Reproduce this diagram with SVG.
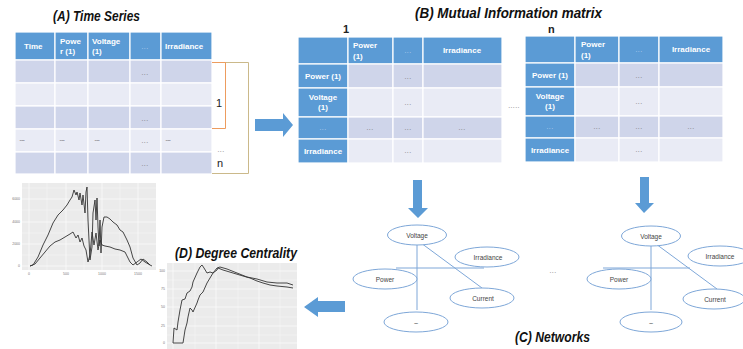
<svg xmlns="http://www.w3.org/2000/svg" width="743" height="349" viewBox="0 0 743 349">
<style>
.hd{fill:#5b9bd5;stroke:#fff;stroke-width:1.2}
.dk{fill:#cfd5ea;stroke:#fff;stroke-width:1.2}
.lt{fill:#e9ebf5;stroke:#fff;stroke-width:1.2}
.ht{font-family:"Liberation Sans",Arial,sans-serif;font-weight:bold;font-size:8px;fill:#fff}
.hf{font-family:"Liberation Sans",Arial,sans-serif;font-size:7px;fill:#b9d1ee;text-anchor:middle;letter-spacing:0.4px}
.dt{font-family:"Liberation Sans",Arial,sans-serif;font-size:7px;fill:#777;text-anchor:middle;letter-spacing:0.4px}
.ds{font-family:"Liberation Sans",Arial,sans-serif;font-size:6px;fill:#444;text-anchor:middle;letter-spacing:-0.3px}
.title{font-family:"Liberation Sans",Arial,sans-serif;font-weight:bold;font-style:italic;font-size:14px;fill:#111}
.lbl{font-family:"Liberation Sans",Arial,sans-serif;font-size:11px;fill:#222}
.node{fill:#fff;stroke:#7ea7d8;stroke-width:1}
.nt{font-family:"Liberation Sans",Arial,sans-serif;font-size:6.5px;fill:#444;text-anchor:middle}
.edge{stroke:#7ea7d8;stroke-width:1;fill:none}
.arrow{fill:#5b9bd5}
.panel{fill:#ebebeb}
.grid{stroke:#fff;stroke-width:0.6}
.curve{fill:none;stroke:#333;stroke-width:0.9;stroke-linejoin:round}
.tk{font-family:"Liberation Sans",Arial,sans-serif;font-size:3.5px;fill:#777}
</style>
<rect width="743" height="349" fill="#fff"/>

<!-- (A) Time series -->
<g id="tableA">
<text class="title" x="53" y="21" font-size="13" textLength="87" lengthAdjust="spacingAndGlyphs">(A) Time Series</text>
<rect class="hd" x="15" y="32" width="40" height="28"/>
<rect class="hd" x="55" y="32" width="33" height="28"/>
<rect class="hd" x="88" y="32" width="42" height="28"/>
<rect class="hd" x="130" y="32" width="31" height="28"/>
<rect class="hd" x="161" y="32" width="51" height="28"/>
<text class="ht" x="24" y="49">Time</text>
<text class="ht" x="60" y="44">Powe</text>
<text class="ht" x="60" y="54">r (1)</text>
<text class="ht" x="92" y="44">Voltage</text>
<text class="ht" x="92" y="54">(1)</text>
<text class="hf" x="145" y="49">...</text>
<text class="ht" x="165" y="49">Irradiance</text>
<g>
<rect class="dk" x="15" y="60" width="40" height="23"/><rect class="dk" x="55" y="60" width="33" height="23"/><rect class="dk" x="88" y="60" width="42" height="23"/><rect class="dk" x="130" y="60" width="31" height="23"/><rect class="dk" x="161" y="60" width="51" height="23"/>
<rect class="lt" x="15" y="83" width="40" height="23"/><rect class="lt" x="55" y="83" width="33" height="23"/><rect class="lt" x="88" y="83" width="42" height="23"/><rect class="lt" x="130" y="83" width="31" height="23"/><rect class="lt" x="161" y="83" width="51" height="23"/>
<rect class="dk" x="15" y="106" width="40" height="23"/><rect class="dk" x="55" y="106" width="33" height="23"/><rect class="dk" x="88" y="106" width="42" height="23"/><rect class="dk" x="130" y="106" width="31" height="23"/><rect class="dk" x="161" y="106" width="51" height="23"/>
<rect class="lt" x="15" y="129" width="40" height="23"/><rect class="lt" x="55" y="129" width="33" height="23"/><rect class="lt" x="88" y="129" width="42" height="23"/><rect class="lt" x="130" y="129" width="31" height="23"/><rect class="lt" x="161" y="129" width="51" height="23"/>
<rect class="dk" x="15" y="152" width="40" height="22"/><rect class="dk" x="55" y="152" width="33" height="22"/><rect class="dk" x="88" y="152" width="42" height="22"/><rect class="dk" x="130" y="152" width="31" height="22"/><rect class="dk" x="161" y="152" width="51" height="22"/>
</g>
<text class="dt" x="145" y="75">...</text>
<text class="dt" x="145" y="121">...</text>
<text class="dt" x="145" y="143">...</text>
<text class="dt" x="145" y="166">...</text>
<text class="ds" x="22" y="142">---</text>
<text class="ds" x="62" y="142">---</text>
<text class="ds" x="97" y="142">---</text>
<text class="ds" x="168" y="142">---</text>
<!-- brackets -->
<polyline points="212,62.5 248.5,62.5 248.5,173.5 212,173.5" fill="none" stroke="#cbb98a" stroke-width="1"/>
<polyline points="212,62.5 225.5,62.5 225.5,128.5 212,128.5" fill="none" stroke="#ed9c5e" stroke-width="1"/>
<text class="lbl" x="216" y="107">1</text>
<text class="dt" x="221" y="152" fill="#444">...</text>
<text class="lbl" x="217" y="167">n</text>
</g>

<!-- (B) Mutual Information matrix 1 -->
<g id="matrix1">
<text class="title" x="415" y="18" font-size="13.5" textLength="187" lengthAdjust="spacingAndGlyphs">(B) Mutual Information matrix</text>
<text class="lbl" x="343" y="33" font-weight="bold" font-size="12">1</text>
<rect class="hd" x="298" y="37" width="50" height="27"/><rect class="hd" x="348" y="37" width="45" height="27"/><rect class="hd" x="393" y="37" width="30" height="27"/><rect class="hd" x="423" y="37" width="79" height="27"/>
<text class="ht" x="353" y="48">Power</text><text class="ht" x="353" y="59">(1)</text>
<text class="hf" x="408" y="53" fill="#dbe7f5">...</text>
<text class="ht" x="462" y="53" text-anchor="middle">Irradiance</text>
<rect class="hd" x="298" y="64" width="50" height="24"/><rect class="dk" x="348" y="64" width="45" height="24"/><rect class="dk" x="393" y="64" width="30" height="24"/><rect class="dk" x="423" y="64" width="79" height="24"/>
<rect class="hd" x="298" y="88" width="50" height="29"/><rect class="lt" x="348" y="88" width="45" height="29"/><rect class="lt" x="393" y="88" width="30" height="29"/><rect class="lt" x="423" y="88" width="79" height="29"/>
<rect class="hd" x="298" y="117" width="50" height="22"/><rect class="dk" x="348" y="117" width="45" height="22"/><rect class="dk" x="393" y="117" width="30" height="22"/><rect class="dk" x="423" y="117" width="79" height="22"/>
<rect class="hd" x="298" y="139" width="50" height="24"/><rect class="lt" x="348" y="139" width="45" height="24"/><rect class="lt" x="393" y="139" width="30" height="24"/><rect class="lt" x="423" y="139" width="79" height="24"/>
<text class="ht" x="323" y="79" text-anchor="middle">Power (1)</text>
<text class="ht" x="323" y="100" text-anchor="middle">Voltage</text>
<text class="ht" x="323" y="110" text-anchor="middle">(1)</text>
<text class="hf" x="323" y="130">...</text>
<text class="ht" x="323" y="154" text-anchor="middle">Irradiance</text>
<text class="dt" x="408" y="79">...</text>
<text class="dt" x="408" y="105">...</text>
<text class="dt" x="370" y="130">...</text>
<text class="dt" x="408" y="130">...</text>
<text class="dt" x="462" y="130">...</text>
<text class="dt" x="408" y="153">...</text>
</g>

<text class="dt" x="514" y="108" fill="#555">.....</text>

<!-- matrix n -->
<g id="matrixN">
<text class="lbl" x="548" y="33" font-weight="bold" font-size="12">n</text>
<rect class="hd" x="525" y="36" width="50" height="27"/><rect class="hd" x="575" y="36" width="44" height="27"/><rect class="hd" x="619" y="36" width="40" height="27"/><rect class="hd" x="659" y="36" width="64" height="27"/>
<text class="ht" x="581" y="47">Power</text><text class="ht" x="581" y="58">(1)</text>
<text class="hf" x="639" y="52" fill="#dbe7f5">...</text>
<text class="ht" x="691" y="52" text-anchor="middle">Irradiance</text>
<rect class="hd" x="525" y="63" width="50" height="24"/><rect class="dk" x="575" y="63" width="44" height="24"/><rect class="dk" x="619" y="63" width="40" height="24"/><rect class="dk" x="659" y="63" width="64" height="24"/>
<rect class="hd" x="525" y="87" width="50" height="29"/><rect class="lt" x="575" y="87" width="44" height="29"/><rect class="lt" x="619" y="87" width="40" height="29"/><rect class="lt" x="659" y="87" width="64" height="29"/>
<rect class="hd" x="525" y="116" width="50" height="22"/><rect class="dk" x="575" y="116" width="44" height="22"/><rect class="dk" x="619" y="116" width="40" height="22"/><rect class="dk" x="659" y="116" width="64" height="22"/>
<rect class="hd" x="525" y="138" width="50" height="24"/><rect class="lt" x="575" y="138" width="44" height="24"/><rect class="lt" x="619" y="138" width="40" height="24"/><rect class="lt" x="659" y="138" width="64" height="24"/>
<text class="ht" x="550" y="78" text-anchor="middle">Power (1)</text>
<text class="ht" x="550" y="99" text-anchor="middle">Voltage</text>
<text class="ht" x="550" y="109" text-anchor="middle">(1)</text>
<text class="hf" x="550" y="129">...</text>
<text class="ht" x="550" y="153" text-anchor="middle">Irradiance</text>
<text class="dt" x="639" y="78">...</text>
<text class="dt" x="639" y="104">...</text>
<text class="dt" x="597" y="129">...</text>
<text class="dt" x="639" y="129">...</text>
<text class="dt" x="691" y="129">...</text>
<text class="dt" x="639" y="152">...</text>
</g>

<!-- arrows -->
<g id="connectors">
<polygon class="arrow" points="255,119 283,119 283,113 293,125 283,137 283,131 255,131"/>
<polygon class="arrow" points="413,180 422,180 422,208 428,208 418,218 408,208 413,208"/>
<polygon class="arrow" points="640,177 649,177 649,203 654,203 644,213 635,203 640,203"/>
<polygon class="arrow" points="345,301 318,301 318,297 304,307 318,317 318,312 345,312"/>
<!-- network edges left -->
<line class="edge" x1="417" y1="245" x2="417" y2="310"/>
<line class="edge" x1="396" y1="268" x2="484" y2="268"/>
<line class="edge" x1="421" y1="243" x2="482" y2="288"/>
<!-- network edges right -->
<line class="edge" x1="651" y1="246" x2="651" y2="310"/>
<line class="edge" x1="603" y1="268" x2="690" y2="268"/>
<line class="edge" x1="656" y1="244" x2="717" y2="289"/>
</g>

<!-- network left -->
<g id="netL-voltage"><ellipse class="node" cx="417" cy="235" rx="29.5" ry="10"/><text class="nt" x="417" y="237.5">Voltage</text></g>
<g id="netL-irradiance"><ellipse class="node" cx="487" cy="257" rx="32" ry="10"/><text class="nt" x="488" y="259.5">Irradiance</text></g>
<g id="netL-power"><ellipse class="node" cx="385" cy="279" rx="32" ry="10"/><text class="nt" x="385" y="281.5">Power</text></g>
<g id="netL-current"><ellipse class="node" cx="482" cy="298" rx="32" ry="10"/><text class="nt" x="483" y="300.5">Current</text></g>
<g id="netL-more"><ellipse class="node" cx="416" cy="322" rx="32" ry="10"/><text class="nt" x="416" y="324.5">–</text></g>

<text class="dt" x="553" y="273" fill="#555">...</text>

<!-- network right -->
<g id="netR-voltage"><ellipse class="node" cx="651" cy="236" rx="29.5" ry="10"/><text class="nt" x="651" y="238.5">Voltage</text></g>
<g id="netR-irradiance"><ellipse class="node" cx="720" cy="256" rx="32" ry="10"/><text class="nt" x="720" y="258.5">Irradiance</text></g>
<g id="netR-power"><ellipse class="node" cx="619" cy="279" rx="32" ry="10"/><text class="nt" x="619" y="281.5">Power</text></g>
<g id="netR-current"><ellipse class="node" cx="714" cy="299" rx="31" ry="10"/><text class="nt" x="715" y="301.5">Current</text></g>
<g id="netR-more"><ellipse class="node" cx="651" cy="322" rx="31" ry="10"/><text class="nt" x="651" y="324.5">–</text></g>

<text class="title" x="515" y="342" font-size="13" textLength="75" lengthAdjust="spacingAndGlyphs">(C) Networks</text>

<!-- time series plot -->
<g id="plotTS">
<rect class="panel" x="22" y="183" width="134" height="87"/>
<g class="grid">
<line x1="22" y1="199" x2="156" y2="199"/><line x1="22" y1="222" x2="156" y2="222"/><line x1="22" y1="244" x2="156" y2="244"/><line x1="22" y1="266" x2="156" y2="266"/>
<line x1="22" y1="188" x2="156" y2="188" stroke-width="0.3"/><line x1="22" y1="210" x2="156" y2="210" stroke-width="0.3"/><line x1="22" y1="233" x2="156" y2="233" stroke-width="0.3"/><line x1="22" y1="255" x2="156" y2="255" stroke-width="0.3"/>
<line x1="29" y1="183" x2="29" y2="270"/><line x1="66" y1="183" x2="66" y2="270"/><line x1="102" y1="183" x2="102" y2="270"/><line x1="138" y1="183" x2="138" y2="270"/>
<line x1="47" y1="183" x2="47" y2="270" stroke-width="0.3"/><line x1="84" y1="183" x2="84" y2="270" stroke-width="0.3"/><line x1="120" y1="183" x2="120" y2="270" stroke-width="0.3"/>
</g>
<polyline class="curve" points="30,266 33,265 38,257 43,245 48,235 53,223 58,215 63,210 67,205 70,200 72,197 74,190 76,195 77,192 79,200 80,193 82,205 83,195 85,213 86,192 87,187 88,220 90,260 92,247 93,213 95,200 96,220 97,198 98,227 99,246 100,220 101,253 102,227 104,217 107,217 110,219 113,222 117,225 120,230 123,232 127,240 130,247 133,258 137,265 140,263 143,259 147,262 150,265 152,266"/>
<polyline class="curve" points="30,266 35,264 40,258 45,252 50,246 55,242 60,240 65,237 70,234 73,232 76,238 78,235 80,242 82,238 84,246 86,250 88,262 90,255 92,232 94,245 96,233 98,250 100,240 102,245 105,246 110,247 115,249 120,250 125,252 130,262 133,265 137,262 141,259 145,262 150,265"/>
<text class="tk" x="20" y="200" text-anchor="end">6000</text>
<text class="tk" x="20" y="223" text-anchor="end">4000</text>
<text class="tk" x="20" y="245" text-anchor="end">2000</text>
<text class="tk" x="20" y="267" text-anchor="end">0</text>
<text class="tk" x="29" y="275" text-anchor="middle">0</text>
<text class="tk" x="66" y="275" text-anchor="middle">500</text>
<text class="tk" x="102" y="275" text-anchor="middle">1000</text>
<text class="tk" x="138" y="275" text-anchor="middle">1500</text>
</g>

<!-- degree centrality plot -->
<g id="plotDC">
<text class="title" x="175" y="258" font-size="14" textLength="122" lengthAdjust="spacingAndGlyphs">(D) Degree Centrality</text>
<rect class="panel" x="167" y="263" width="130" height="86"/>
<g class="grid">
<line x1="167" y1="271" x2="297" y2="271"/><line x1="167" y1="289" x2="297" y2="289"/><line x1="167" y1="307" x2="297" y2="307"/><line x1="167" y1="326" x2="297" y2="326"/><line x1="167" y1="343" x2="297" y2="343"/>
<line x1="167" y1="280" x2="297" y2="280" stroke-width="0.3"/><line x1="167" y1="298" x2="297" y2="298" stroke-width="0.3"/><line x1="167" y1="317" x2="297" y2="317" stroke-width="0.3"/><line x1="167" y1="335" x2="297" y2="335" stroke-width="0.3"/>
<line x1="173" y1="263" x2="173" y2="349"/><line x1="216" y1="263" x2="216" y2="349"/><line x1="259" y1="263" x2="259" y2="349"/>
<line x1="195" y1="263" x2="195" y2="349" stroke-width="0.3"/><line x1="238" y1="263" x2="238" y2="349" stroke-width="0.3"/><line x1="280" y1="263" x2="280" y2="349" stroke-width="0.3"/>
</g>
<polyline class="curve" stroke="#444" points="173,343 174,328 177,330 178,322 180,310 182,300 185,299 187,293 190,291 192,287 193,282 197,273 200,267 202,265 204,268 207,273 210,272 213,273 217,268 220,267 227,269 237,273 247,277 257,279 267,282 277,283 287,283 293,285"/>
<polyline class="curve" stroke="#555" points="173,343 183,343 185,330 187,323 188,317 190,308 192,310 193,312 197,303 198,300 200,295 203,292 207,283 210,278 213,273 217,270 218,268 223,270 233,273 243,276 250,278 257,281 263,283 270,285 277,286 287,287 293,288"/>
<text class="tk" x="165" y="272" text-anchor="end">100</text>
<text class="tk" x="165" y="290" text-anchor="end">75</text>
<text class="tk" x="165" y="308" text-anchor="end">50</text>
<text class="tk" x="165" y="327" text-anchor="end">25</text>
<text class="tk" x="165" y="344" text-anchor="end">0</text>
</g>
</svg>
